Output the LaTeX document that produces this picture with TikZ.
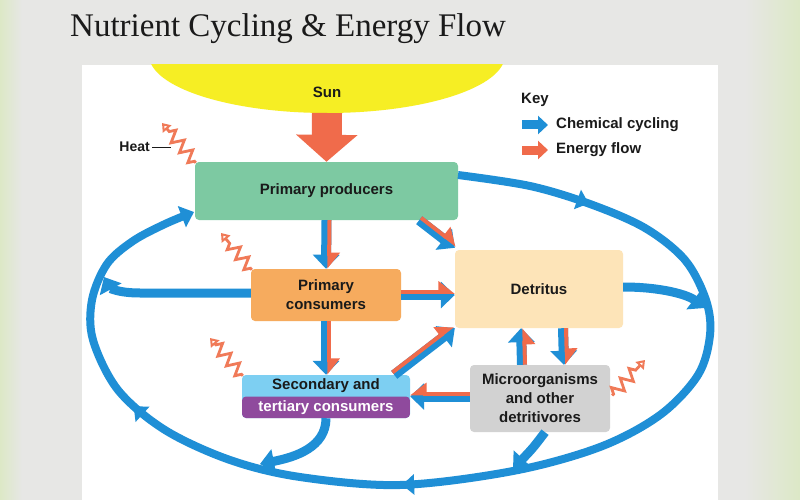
\documentclass[tikz,border=0pt]{standalone}
\usepackage{fontspec}
\setmainfont{Liberation Sans}
\newfontfamily\titlefont{Liberation Serif}
\usetikzlibrary{arrows.meta,decorations.pathmorphing,decorations.markings,calc}
\definecolor{cblue}{HTML}{1F8FD6}
\definecolor{corange}{HTML}{F06B4B}
\definecolor{cheat}{HTML}{F07A58}
\definecolor{cgreen}{HTML}{7DC9A2}
\definecolor{cpeach}{HTML}{FDE4B8}
\definecolor{ctan}{HTML}{F6AB5E}
\definecolor{cgray}{HTML}{D2D2D2}
\definecolor{clblue}{HTML}{7DCFF2}
\definecolor{cpurple}{HTML}{8F4A9D}
\definecolor{cyellow}{HTML}{F6EE24}
\definecolor{cbg}{HTML}{E7E7E5}
\definecolor{cbggreen}{HTML}{DCE8C6}
\definecolor{ctext}{HTML}{1A1A1A}
% double (chemical + energy) arrow: #1 start, #2 end, #3 side angle (90 left / -90 right), #4 opposite angle, #5 left/right
\newcommand\dblarr[5]{%
  \draw[chemd] (#1) -- (#2);
  \draw[enrd,-{Triangle[#5,width=21pt,length=14pt]}] ($(#1)!3pt!#3:(#2)$) -- ($(#2)!3pt!#4:(#1)$);}
\begin{document}
\begin{tikzpicture}[x=1pt,y=-1pt,font=\bfseries\fontsize{15}{19}\selectfont,
  box/.style={rounded corners=4pt,inner sep=0pt,align=center,text=ctext},
  chemd/.style={draw=cblue,line width=10pt,-{Triangle[width=26pt,length=14pt]}},
  enrd/.style={draw=corange,line width=4pt},
  chem/.style={draw=cblue,line width=9pt,-{Triangle[width=24pt,length=14pt]}},
  loopline/.style={draw=cblue,line width=8pt},
  heat/.style={draw=cheat,line width=2.8pt,decorate,
    decoration={zigzag,segment length=13pt,amplitude=6pt,pre length=2pt,post length=8pt},
    -{Triangle[open,fill=white,width=11pt,length=8pt]}},
  keytxt/.style={anchor=west,inner sep=0pt,text=ctext}]
\useasboundingbox (0,0) rectangle (800,500);
% background
\fill[cbg] (0,0) rectangle (800,500);
\shade[left color=cbggreen,right color=cbg] (0,0) rectangle (22,500);
\shade[left color=cbg,right color=cbggreen] (745,0) rectangle (800,500);
\fill[white] (82,65) rectangle (718,500);
% title
\node[anchor=base west,inner sep=0pt,text=ctext,font=\titlefont\mdseries\fontsize{33}{36}\selectfont] (title) at (70,37) {Nutrient Cycling \& Energy Flow};
% sun
\begin{scope}
\clip (82,65) rectangle (718,200);
\fill[cyellow] (327,55) ellipse [x radius=178, y radius=58];
\end{scope}
\node[text=ctext] (sun) at (327,92) {Sun};
\coordinate (sunb) at (327,113);
% boxes
\node[box,fill=cgreen,minimum width=263pt,minimum height=58pt] (pp) at (326.5,191) {Primary producers};
\node[box,fill=ctan,minimum width=150pt,minimum height=52pt] (pc) at (326,295) {Primary\\consumers};
\node[box,fill=cpeach,minimum width=168pt,minimum height=78pt] (det) at (539,289) {Detritus};
\node[box,fill=clblue,minimum width=168pt,minimum height=43pt,
  path picture={\fill[cpurple] (path picture bounding box.west) rectangle (path picture bounding box.south east);}] (sec) at (326,396.5) {};
\node[text=ctext,inner sep=0pt] (secA) at (326,386) {Secondary and};
\node[text=white,inner sep=0pt] (secB) at (326,407.5) {tertiary consumers};
\node[box,fill=cgray,minimum width=140pt,minimum height=67pt] (mic) at (540,398.5) {Microorganisms\\and other\\detritivores};
% sun energy arrow
\draw[draw=corange,line width=30pt,-{Triangle[width=60pt,length=27pt]}] (sunb) -- (pp.north);
% big loop
\draw[loopline,-{Triangle[width=22pt,length=13pt]},
  postaction={decorate,decoration={markings,
    mark=at position 0.108 with {\arrow{Triangle[width=20pt,length=12pt]}},
    mark=at position 0.56 with {\arrow{Triangle[width=20pt,length=12pt]}},
    mark=at position 0.79 with {\arrow{Triangle[width=20pt,length=12pt]}}}}]
  plot[smooth,tension=0.55] coordinates {(458,175) (530,186) (590,204) (645,228) (685,260) (706,300) (710,335) (698,375) (660,415) (600,447) (513,471) (400,485) (300,477) (230,460) (165,430) (118,390) (93,340) (92,300) (107,264) (133,241) (165,224) (194,212)};
% double arrows
\dblarr{pp.south}{pc.north}{90}{-90}{left}
\dblarr{$(pp.south east)+(-39,0)$}{$(det.north west)+(0,-2)$}{90}{-90}{left}
\dblarr{pc.east}{pc.east -| det.west}{90}{-90}{left}
\dblarr{pc.south}{sec.north}{90}{-90}{left}
\dblarr{$(sec.north east)+(-16,0)$}{$(det.south west)+(0,0)$}{90}{-90}{left}
\dblarr{$(mic.north)+(-18,0)$}{$(det.south)+(-18,0)$}{-90}{90}{right}
\dblarr{$(det.south)+(24,0)$}{$(mic.north)+(24,0)$}{90}{-90}{left}
\dblarr{$(mic.west)+(0,-2)$}{$(mic.west -| sec.east)+(0,-2)$}{-90}{90}{right}
% blue returns to loop
\coordinate (lpA) at (104,277);
\coordinate (lpB) at (705,308);
\coordinate (lpC) at (260,464);
\coordinate (lpD) at (513,469);
\draw[chem] ([yshift=2pt]pc.west) -- (140,293) .. controls (118,293) and (110,288) .. (lpA);
\draw[chem] ([yshift=2pt]det.east) .. controls (662,287) and (688,295) .. (lpB);
\draw[chem] (sec.south) .. controls (326,447) and (296,457) .. (lpC);
\draw[chem] ([xshift=5pt]mic.south) .. controls (533,448) .. (lpD);
% heat
\coordinate (h1) at (162,123);
\coordinate (h2) at (221,233);
\coordinate (h3) at (210,338);
\coordinate (h4) at (645,360);
\draw[heat] ($(pp.north west)+(1,1)$) -- (h1);
\draw[heat] ($(pc.north west)+(1,1)$) -- (h2);
\draw[heat] ($(sec.north west)+(1,1)$) -- (h3);
\draw[heat] ($(mic.east)+(2,-3)$) -- (h4);
\node[anchor=east,inner sep=0pt,text=ctext,font=\bfseries\fontsize{14}{16}\selectfont] (heatlbl) at (150,147) {Heat};
\draw[ctext,line width=0.8pt] (heatlbl.east) ++(2,0) coordinate (hl1) -- (171,147) coordinate (hl2);
% key
\node[keytxt] (key) at (521,100) {Key};
\coordinate (k1a) at (522,125); \coordinate (k1b) at (548,125);
\coordinate (k2a) at (522,150); \coordinate (k2b) at (548,150);
\draw[draw=cblue,line width=9pt,-{Triangle[width=18pt,length=10pt]}] (k1a) -- (k1b);
\draw[draw=corange,line width=9pt,-{Triangle[width=18pt,length=10pt]}] (k2a) -- (k2b);
\node[keytxt] (kc) at (556,125) {Chemical cycling};
\node[keytxt] (ke) at (556,150) {Energy flow};
\end{tikzpicture}
\end{document}
